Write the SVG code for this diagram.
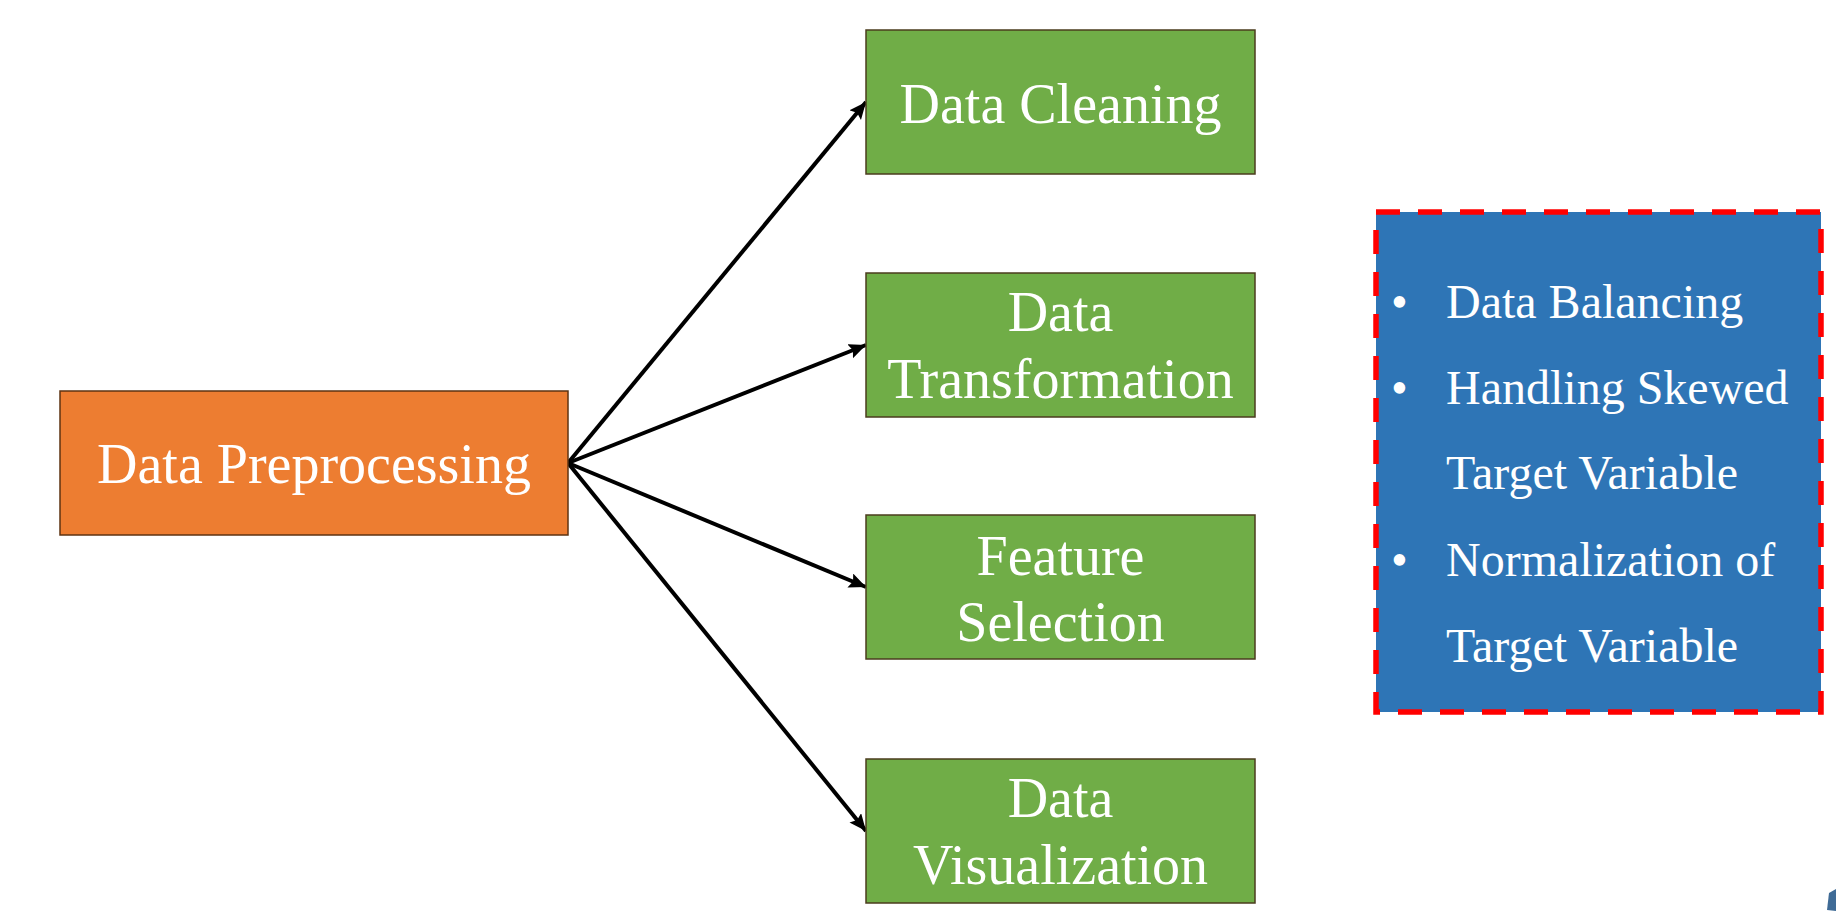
<svg xmlns="http://www.w3.org/2000/svg" width="1836" height="924" viewBox="0 0 1836 924">
<defs>
<style>
.t{font-family:"Liberation Serif","Times New Roman",serif;fill:#ffffff;}
.big{font-size:56px;text-anchor:middle;}
.list{font-size:48px;}
.green{fill:#70AD47;stroke:#4b3d1e;stroke-width:1.5;}
.orange{fill:#ED7D31;stroke:#5e3312;stroke-width:1.5;}
.conn{stroke:#000;stroke-width:4;fill:none;marker-end:url(#arr);}
</style>
<marker id="arr" markerUnits="userSpaceOnUse" markerWidth="20" markerHeight="16" refX="17" refY="7.5" orient="auto">
<path d="M0,0 L17,7.5 L0,15 L3,7.5 z" fill="#000"/>
</marker>
</defs>
<rect width="1836" height="924" fill="#ffffff"/>
<g id="connectors">
<line class="conn" x1="568" y1="463" x2="866" y2="102"/>
<line class="conn" x1="568" y1="463" x2="866" y2="345"/>
<line class="conn" x1="568" y1="463" x2="866" y2="587"/>
<line class="conn" x1="568" y1="463" x2="866" y2="831"/>
</g>
<g id="data-preprocessing">
<rect class="orange" x="60" y="391" width="508" height="144"/>
<text class="t big" x="314" y="483">Data Preprocessing</text>
</g>
<g id="data-cleaning">
<rect class="green" x="866" y="30" width="389" height="144"/>
<text class="t big" x="1060.5" y="123">Data Cleaning</text>
</g>
<g id="data-transformation">
<rect class="green" x="866" y="273" width="389" height="144"/>
<text class="t big" x="1060.5" y="331">Data</text>
<text class="t big" x="1060.5" y="398">Transformation</text>
</g>
<g id="feature-selection">
<rect class="green" x="866" y="515" width="389" height="144"/>
<text class="t big" x="1060.5" y="575">Feature</text>
<text class="t big" x="1060.5" y="641">Selection</text>
</g>
<g id="data-visualization">
<rect class="green" x="866" y="759" width="389" height="144"/>
<text class="t big" x="1060.5" y="817">Data</text>
<text class="t big" x="1060.5" y="884">Visualization</text>
</g>
<g id="target-notes">
<rect x="1376" y="212" width="445" height="500" fill="#2E75B6" stroke="#FF0000" stroke-width="5.5" stroke-dasharray="24 18"/>
<g class="t list">
<text x="1391" y="318">•</text>
<text x="1446" y="318">Data Balancing</text>
<text x="1391" y="404">•</text>
<text x="1446" y="404">Handling Skewed</text>
<text x="1446" y="489">Target Variable</text>
<text x="1391" y="576">•</text>
<text x="1446" y="576">Normalization of</text>
<text x="1446" y="662">Target Variable</text>
</g>
</g>
<polygon points="1829,893 1836,889 1836,911 1827,910" fill="#3f6b96"/>
</svg>
